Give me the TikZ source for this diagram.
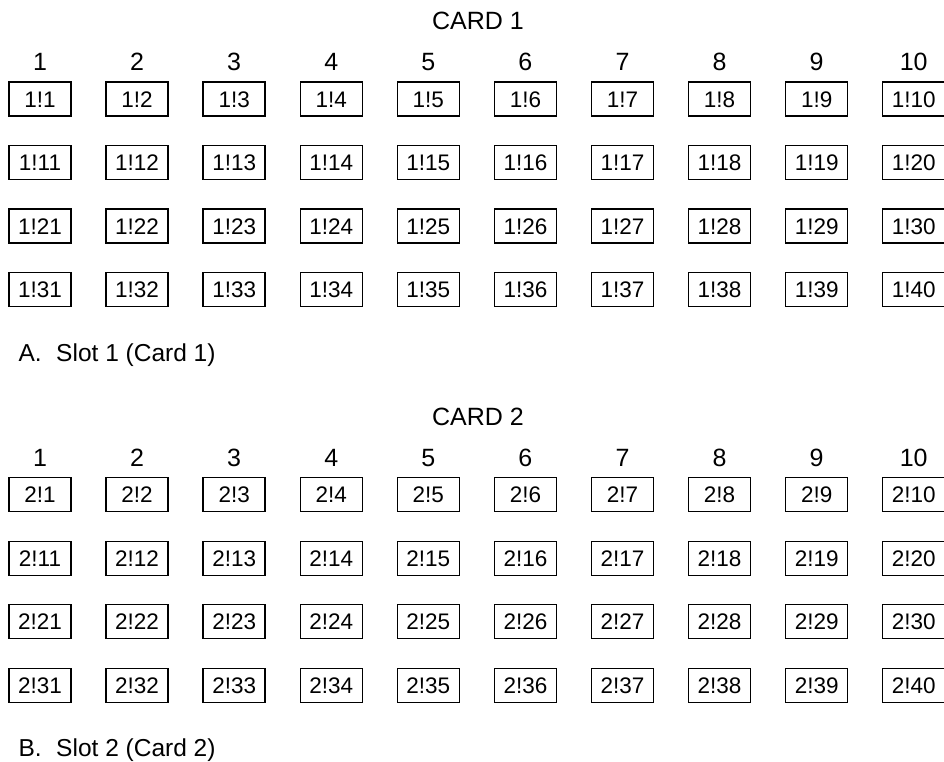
\documentclass[tikz,border=0pt]{standalone}
\usepackage{fontspec}
\setmainfont{Liberation Sans}
\begin{document}
\begin{tikzpicture}[x=1pt,y=-1pt,
  cell/.style={draw=black,line width=1.4pt,minimum width=62pt,minimum height=34pt,inner sep=0pt,text height=16.2pt,text depth=0pt,font=\fontsize{22.5}{26}\selectfont},
  hdr/.style={anchor=base,inner sep=0pt,font=\fontsize{25}{30}\selectfont},
  slotlabel/.style={anchor=base west,inner sep=0pt,font=\fontsize{24.5}{30}\selectfont}]
\useasboundingbox (0,0) rectangle (944,762);
\foreach \c/\dy/\lab in {1/0/A, 2/395.7/B}{
  \node[hdr] (title\c) at (478,29.3+\dy) {CARD \c};
  \foreach \i in {1,...,10}{
    \node[hdr] (h\c-\i) at ({40+97.08*(\i-1)},71+\dy) {\i};
    \foreach \r in {0,...,3}{
      \pgfmathtruncatemacro{\n}{\r*10+\i}
      \node[cell] (b\c-\n) at ({40+97.08*(\i-1)},{99+63.5*\r+\dy}) {\c!\n};
    }
  }
  \node[slotlabel] (lab\c) at (18.3,361+\dy) {\lab.\hspace{14.6pt}Slot \c\ (Card \c)};
}
\end{tikzpicture}
\end{document}
